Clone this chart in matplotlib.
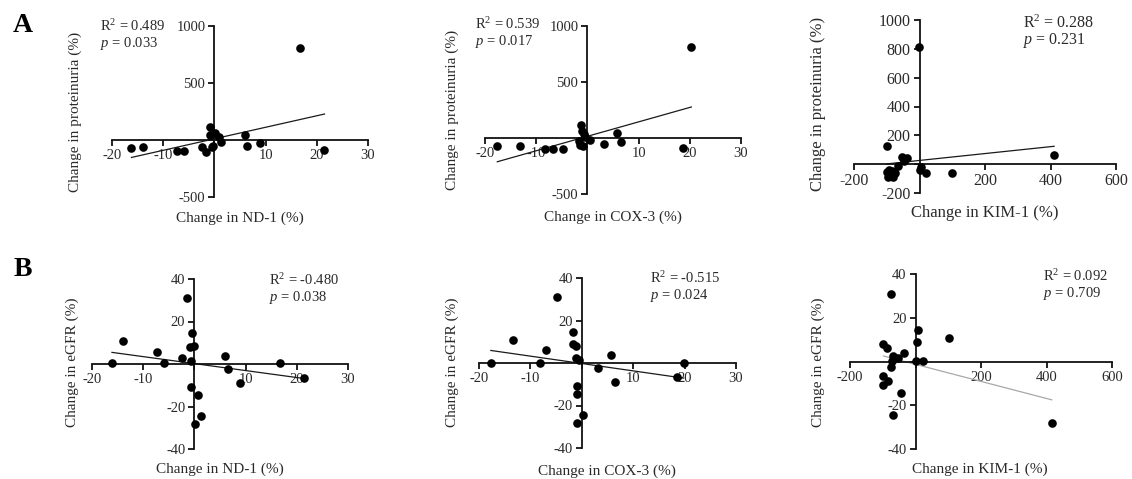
import numpy as np
import matplotlib
matplotlib.use('Agg')
import matplotlib.pyplot as plt

W, H = 1132, 479
TXT = '#2a2a2a'

plt.rcParams['font.family'] = ['Liberation Serif', 'DejaVu Serif']
plt.rcParams['mathtext.fontset'] = 'custom'
plt.rcParams['mathtext.rm'] = 'Liberation Serif'
plt.rcParams['mathtext.it'] = 'Liberation Serif:italic'

# --- values ---
# A: change in proteinuria vs mtDNA / KIM-1
nd1_a = [-16.2, -14.0, -7.3, -5.9, -2.5, -1.6, -0.9, -0.8, -0.45, -0.3, 0.2, 0.85, 1.3, 5.9, 6.4, 9.0, 16.7, 21.5]
prot_nd1 = [-70, -64, -94, -94, -64, -102, 117, 47, -58, -55, 64, 23, -15, 47, -50, -29, 804, -88]

cox3_a = [-17.6, -13.2, -8.2, -6.8, -4.7, -1.6, -1.5, -1.2, -1.0, -0.85, -0.6, -0.4, 0.45, 3.3, 5.8, 6.6, 18.7, 20.3]
prot_cox3 = [-73, -67, -96, -96, -100, -28, -64, 114, 64, -67, 40, 10, -16, -52, 43, -34, -91, 812]

kim1_a = [-0.6, -100, -54, -39, -47, -65, -100, -85, -75, -90, -80, -95, -92, 1.5, 4.6, 20, 98, 411]
prot_kim1 = [811, 124, 47, 43, 24, -10, -57, -45, -64, -80, -92, -92, -40, -40, -17, -64, -64, 66]

# B: change in eGFR vs mtDNA / KIM-1
nd1_b = [-16.1, -14.0, -7.3, -5.9, -2.4, -1.4, -0.9, -0.65, -0.45, -0.13, -0.65, 0.06, 0.8, 1.3, 5.9, 6.5, 9.0, 16.7, 21.5]
egfr_nd1 = [0.3, 11.0, 5.8, 0.3, 2.7, 31.0, 7.8, 1.6, 14.7, 8.6, -10.7, -28.2, -14.7, -24.5, 3.9, -2.5, -9.1, 0.3, -6.4]

cox3_b = [-17.7, -13.3, -8.2, -6.9, -4.8, -1.8, -1.7, -1.2, -1.2, -0.5, -1.0, -0.9, -1.0, 0.3, 3.2, 5.6, 6.5, 18.5, 19.8]
egfr_cox3 = [0.1, 10.9, 0.1, 5.9, 31.0, 14.5, 8.9, 7.8, 2.4, 1.5, -10.9, -14.8, -28.3, -24.4, -2.3, 3.9, -9.0, -6.7, 0.1]

kim1_b = [-75, -98, -88, -68, -73, -75, -54, -35, -98, -98, -85, -45, -68, 6.6, 3.6, 0.5, 24, 102, 416]
egfr_kim1 = [30.9, 7.9, 6.0, 2.5, 0.4, -2.4, 1.5, 3.7, -6.5, -10.7, -8.9, -14.5, -24.5, 14.5, 8.8, 0.4, 0.4, 10.9, -28.3]

# regression lines (slope, intercept) as drawn
fit_nd1_a = (10.1, 10.6)
fit_cox3_a = (12.9, 15.0)
fit_kim1_a = (0.239, 25.8)
fit_nd1_b = (-0.328, 0.19)
fit_cox3_b = (-0.347, -0.24)
fit_kim1_b = (-0.039, -1.3)

stats_a = [('0.489', '0.033'), ('0.539', '0.017'), ('0.288', '0.231')]
stats_b = [('-0.480', '0.038'), ('-0.515', '0.024'), ('0.092', '0.709')]

mt_ticks = [-20, -10, 0, 10, 20, 30]
kim_ticks = [-200, 0, 200, 400, 600]
prot_ticks = [-500, 0, 500, 1000]
prot_ticks_kim = [-200, 0, 200, 400, 600, 800, 1000]
egfr_ticks = [-40, -20, 0, 20, 40]

fig = plt.figure(figsize=(W / 100, H / 100), dpi=100)
fig.patch.set_facecolor('white')


def px(x, y):
    return x / W, 1 - y / H


def panel(box, x, y, xticks, yticks, fit, xlabel, ylabel, xlab_pos, ylab_pos,
          stats, stat_pos, tick_fs=10.5, lab_fs=11, line_color='#1a1a1a'):
    x0, x1, ytop, ybot = box
    ax = fig.add_axes([x0 / W, 1 - ybot / H, (x1 - x0) / W, (ybot - ytop) / H])
    ax.patch.set_alpha(0)
    ax.set_xlim(xticks[0], xticks[-1])
    ax.set_ylim(yticks[0], yticks[-1])
    for s in ('top', 'right'):
        ax.spines[s].set_visible(False)
    for s in ('left', 'bottom'):
        ax.spines[s].set_position(('data', 0))
        ax.spines[s].set_linewidth(1.3)
        ax.spines[s].set_color('#111111')
    ax.set_xticks(xticks)
    ax.set_xticklabels(['' if t == 0 else str(t) for t in xticks])
    ax.set_yticks(yticks)
    ax.set_yticklabels(['' if t == 0 else str(t) for t in yticks])
    ax.tick_params(direction='out', length=4, width=1.3, pad=2.5,
                   labelsize=tick_fs, labelcolor=TXT, color='#111111')

    ax.plot(x, y, 'o', color='black', ms=6.2, mec='none', clip_on=False, zorder=3)
    xs = np.array([min(x), max(x)])
    ax.plot(xs, fit[0] * xs + fit[1], color=line_color, lw=0.9, zorder=2)

    fig.text(*px(*xlab_pos), xlabel, ha='center', va='center', fontsize=lab_fs, color=TXT)
    fig.text(*px(*ylab_pos), ylabel, ha='center', va='center', rotation=90,
             fontsize=lab_fs, color=TXT)
    r2, p = stats
    sx, sy = stat_pos
    fig.text(*px(sx, sy), 'R$^{2}$ = ' + r2, ha='left', va='center', fontsize=lab_fs - 0.5, color=TXT)
    fig.text(*px(sx, sy + 18), '$p$ = ' + p, ha='left', va='center', fontsize=lab_fs - 0.5, color=TXT)
    return ax


# row A
panel((112, 368, 26, 197), nd1_a, prot_nd1, mt_ticks, prot_ticks, fit_nd1_a,
      'Change in ND-1 (%)', 'Change in proteinuria (%)', (240, 218), (75, 112),
      stats_a[0], (100, 26))
panel((485, 741, 26, 194), cox3_a, prot_cox3, mt_ticks, prot_ticks, fit_cox3_a,
      'Change in COX-3 (%)', 'Change in proteinuria (%)', (613, 217), (452, 110),
      stats_a[1], (475, 24))
panel((854, 1116, 20, 193), kim1_a, prot_kim1, kim_ticks, prot_ticks_kim, fit_kim1_a,
      'Change in KIM-1 (%)', 'Change in proteinuria (%)', (985, 213), (818, 104),
      stats_a[2], (1023, 23), tick_fs=11.5, lab_fs=12)

# row B
panel((92, 348, 279, 449), nd1_b, egfr_nd1, mt_ticks, egfr_ticks, fit_nd1_b,
      'Change in ND-1 (%)', 'Change in eGFR (%)', (220, 469), (72, 362),
      stats_b[0], (269, 280))
panel((479, 736, 278, 448), cox3_b, egfr_cox3, mt_ticks, egfr_ticks, fit_cox3_b,
      'Change in COX-3 (%)', 'Change in eGFR (%)', (607, 471), (452, 362),
      stats_b[1], (650, 278))
panel((850, 1112, 274, 449), kim1_b, egfr_kim1, kim_ticks, egfr_ticks, fit_kim1_b,
      'Change in KIM-1 (%)', 'Change in eGFR (%)', (980, 469), (818, 362),
      stats_b[2], (1043, 276), line_color='#a8a8a8')

fig.text(*px(23, 25), 'A', ha='center', va='center', fontsize=20, fontweight='bold')
fig.text(*px(23, 270), 'B', ha='center', va='center', fontsize=20, fontweight='bold')

fig.savefig('out.png', dpi=100)
